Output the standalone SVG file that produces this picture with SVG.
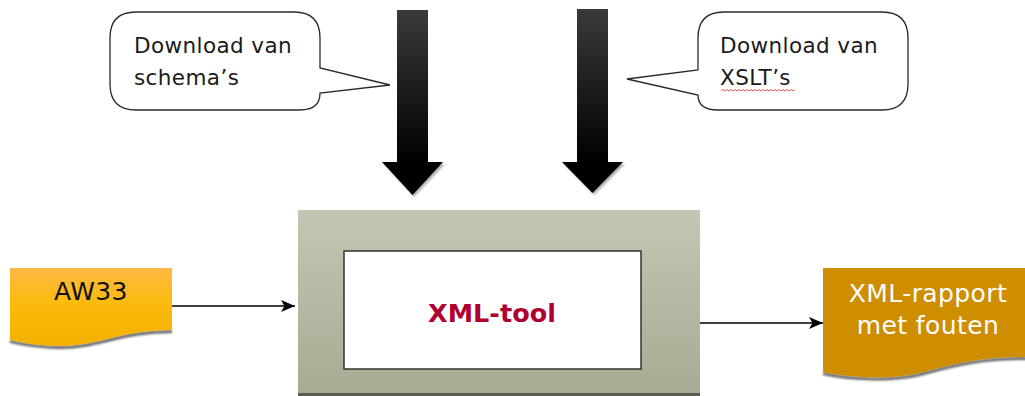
<svg xmlns="http://www.w3.org/2000/svg" width="1025" height="396" viewBox="0 0 1025 396">
  <defs>
    <linearGradient id="gShaft" x1="0" y1="0" x2="0" y2="1">
      <stop offset="0" stop-color="#3a3a3a"/>
      <stop offset="1" stop-color="#000"/>
    </linearGradient>
    <linearGradient id="gBox" x1="0" y1="0" x2="0" y2="1">
      <stop offset="0" stop-color="#c5c6b3"/>
      <stop offset="1" stop-color="#a8aa93"/>
    </linearGradient>
    <linearGradient id="gAw" x1="0" y1="0" x2="0" y2="1">
      <stop offset="0" stop-color="#ffb845"/>
      <stop offset="0.45" stop-color="#fcbb0c"/>
      <stop offset="1" stop-color="#f2b000"/>
    </linearGradient>
    <marker id="arr" markerWidth="16" markerHeight="14" refX="14" refY="6" orient="auto" markerUnits="userSpaceOnUse">
      <path d="M0,0 L14,6 L0,12 L3.5,6 Z" fill="#000"/>
    </marker>
    <filter id="blur1" x="-20%" y="-20%" width="140%" height="140%">
      <feGaussianBlur stdDeviation="0.8"/>
    </filter>
  </defs>
  <style>
    .callout { fill: #fff; stroke: #2a2a2a; stroke-width: 1.3; }
    .ctext { font-family: "DejaVu Sans", Verdana, sans-serif; font-size: 21.5px; letter-spacing: 0.4px; fill: #1a1a1a; }
    .doctext { font-family: "DejaVu Sans", Verdana, sans-serif; font-size: 25px; letter-spacing: 0.4px; }
    .conn { stroke: #000; stroke-width: 1.5; fill: none; }
  </style>
  <rect width="1025" height="396" fill="#fff"/>

  <g id="callout-schemas">
    <path class="callout" d="M136 12 H294 Q320 12 320 38 V68 L390 85 L320 93 Q320 110 300 110 H136 Q110 110 110 84 V38 Q110 12 136 12 Z"/>
    <text class="ctext" x="134" y="53">Download van</text>
    <text class="ctext" x="134" y="85">schema’s</text>
  </g>

  <g id="callout-xslt">
    <path class="callout" d="M724 12 H882 Q908 12 908 38 V84 Q908 110 882 110 H718 Q698 110 698 95 L627 79 L698 70 V38 Q698 12 724 12 Z"/>
    <text class="ctext" x="720" y="53">Download van</text>
    <text class="ctext" x="720" y="85">XSLT’s</text>
    <path d="M721 91 l2 -1.5 l2 1.5 l2 -1.5 l2 1.5 l2 -1.5 l2 1.5 l2 -1.5 l2 1.5 l2 -1.5 l2 1.5 l2 -1.5 l2 1.5 l2 -1.5 l2 1.5 l2 -1.5 l2 1.5 l2 -1.5 l2 1.5 l2 -1.5 l2 1.5 l2 -1.5 l2 1.5 l2 -1.5 l2 1.5 l2 -1.5 l2 1.5 l2 -1.5 l2 1.5 l2 -1.5 l2 1.5 l2 -1.5 l2 1.5 l2 -1.5 l2 1.5 l2 -1.5 l2 1.5 l2 -1.5" fill="none" stroke="#e04040" stroke-width="0.9"/>
  </g>

  <g id="arrow-schemas">
    <polygon points="384,164 445,164 414,197" fill="#777" opacity="0.6" filter="url(#blur1)"/>
    <rect x="397" y="10" width="31" height="153" fill="url(#gShaft)"/>
    <polygon points="382,162 443,162 412.5,195" fill="#000"/>
  </g>

  <g id="arrow-xslt">
    <polygon points="564,164 625,164 594,195" fill="#777" opacity="0.6" filter="url(#blur1)"/>
    <rect x="577" y="9" width="31" height="154" fill="url(#gShaft)"/>
    <polygon points="562,162 623,162 592.5,193" fill="#000"/>
  </g>

  <g id="xml-tool">
    <rect x="298" y="210" width="402" height="186" fill="url(#gBox)"/>
    <rect x="298" y="393" width="402" height="3" fill="#5c5d52"/>
    <rect x="344" y="251" width="297" height="118" fill="#fff" stroke="#333" stroke-width="1.5"/>
    <text x="492" y="322" text-anchor="middle" font-family="'DejaVu Sans', Verdana, sans-serif" font-size="25.5" font-weight="bold" fill="#b00030">XML-tool</text>
  </g>

  <g id="aw33">
    <path d="M172 331.5 C120 331.5 100 347.5 60 347.5 C35 347.5 20 343.5 10 341.5" fill="none" stroke="#444" stroke-width="3" opacity="0.85" filter="url(#blur1)"/>
    <path d="M10 268 H172 V330 C120 330 100 346 60 346 C35 346 20 342 10 340 Z" fill="url(#gAw)"/>
    <text class="doctext" x="91" y="300" text-anchor="middle" fill="#111">AW33</text>
  </g>

  <g id="xml-rapport">
    <path d="M1030 358.5 C980 357.5 950 366.5 920 374.5 C890 381.5 850 379.5 823 373.5" fill="none" stroke="#444" stroke-width="3" opacity="0.85" filter="url(#blur1)"/>
    <path d="M823 268 H1030 V357 C980 356 950 365 920 373 C890 380 850 378 823 372 Z" fill="#cf8d00"/>
    <text class="doctext" x="928" y="302" text-anchor="middle" fill="#fff">XML-rapport</text>
    <text class="doctext" x="928" y="334" text-anchor="middle" fill="#fff">met fouten</text>
  </g>

  <g id="connectors">
    <line class="conn" x1="172" y1="306" x2="295" y2="306" marker-end="url(#arr)"/>
    <line class="conn" x1="700" y1="323" x2="823" y2="323" marker-end="url(#arr)"/>
  </g>
</svg>
